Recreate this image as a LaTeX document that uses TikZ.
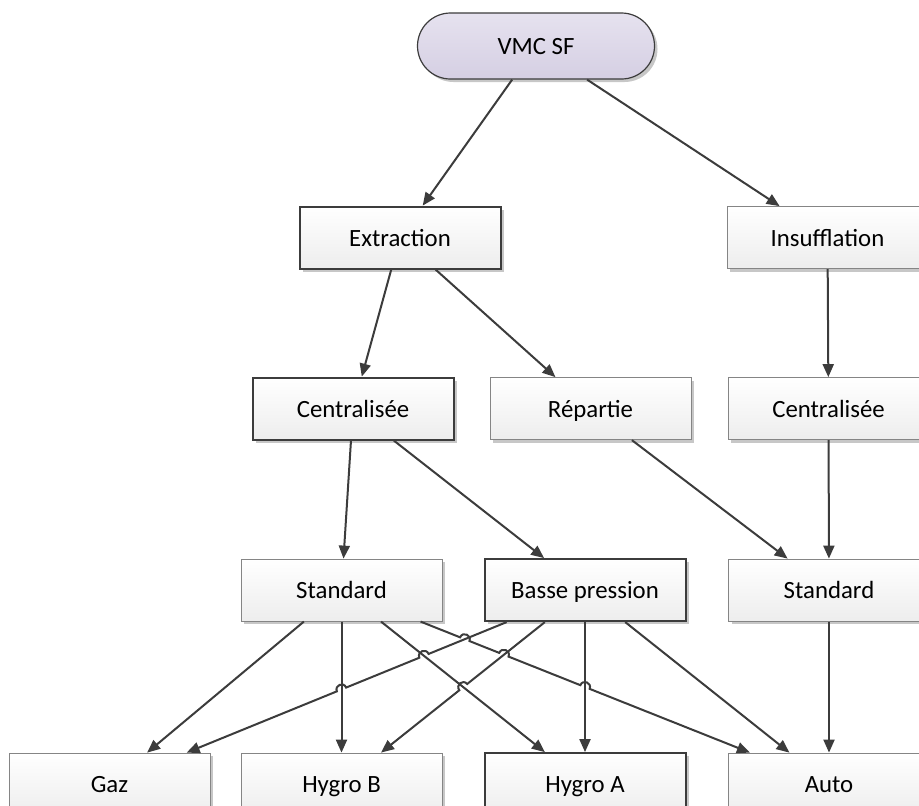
\documentclass[tikz,border=0pt]{standalone}
\usepackage{xcolor}
\usepackage{fontspec}
\setmainfont{Carlito}
\usepackage{tikz}
\usetikzlibrary{positioning,calc,arrows.meta,shadows,intersections}

\definecolor{linegray}{HTML}{3C3C3C}
\definecolor{boxgray}{HTML}{858585}
\definecolor{pilltop}{HTML}{E6E2EF}
\definecolor{pillbottom}{HTML}{D5CFE3}

% half width of a line jump
\newcommand{\jr}{2.5pt}

\begin{document}
\begin{tikzpicture}[
    box/.style={
        rectangle,
        minimum width=100.5pt,
        minimum height=31pt,
        text height=8.6pt,
        text depth=0pt,
        align=center,
        top color=white,
        bottom color=gray!14,
        drop shadow={shadow xshift=1.5pt, shadow yshift=-1.5pt,
                     fill=black!22, opacity=1},
        font=\fontsize{12.4pt}{15pt}\selectfont
    },
    lightbox/.style={box, draw=boxgray, line width=0.5pt},
    darkbox/.style={box, draw=linegray, line width=1pt},
    pill/.style={
        rectangle,
        rounded corners=16.5pt,
        minimum width=118.5pt,
        minimum height=33pt,
        text height=8.6pt,
        text depth=0pt,
        top color=pilltop,
        bottom color=pillbottom,
        draw=linegray,
        line width=0.6pt,
        drop shadow={shadow xshift=1.5pt, shadow yshift=-1.5pt,
                     fill=black!22, opacity=1},
        font=\fontsize{12.4pt}{15pt}\selectfont
    },
    conn/.style={
        draw=linegray,
        line width=1pt,
        -{Triangle[length=6.5pt,width=5.5pt]}
    },
    hopleft/.style={bend left=90, looseness=1.7},
    hopright/.style={bend right=90, looseness=1.7}
]

\useasboundingbox (0,0) rectangle (459.5pt,-402.5pt);

% ------------------------------------------------------------
% Nodes
% ------------------------------------------------------------

\node[pill] (vmc) at (268pt,-23pt) {VMC SF};

\node[darkbox, below=63pt of vmc, xshift=-68pt] (extr) {Extraction};
\node[lightbox, right=112.5pt of extr] (insuf) {Insufflation};

\node[darkbox, below=53.5pt of extr, xshift=-23.5pt] (centL) {Centralisée};
\node[lightbox, right=17.5pt of centL] (rep) {Répartie};
\node[lightbox, right=18pt of rep] (centR) {Centralisée};

\node[lightbox, below=59pt of centL, xshift=-5.75pt] (stdL) {Standard};
\node[darkbox, right=20.5pt of stdL] (basse) {Basse pression};
\node[lightbox, right=20.75pt of basse] (stdR) {Standard};

\node[darkbox, below=65pt of basse] (hygA) {Hygro A};
\node[lightbox, left=20.5pt of hygA] (hygB) {Hygro B};
\node[lightbox, left=15pt of hygB] (gaz) {Gaz};
\node[lightbox, right=20.75pt of hygA] (auto) {Auto};

% ------------------------------------------------------------
% Upper levels
% ------------------------------------------------------------

\draw[conn] (vmc) -- (extr);
\draw[conn] (vmc) -- (insuf);
\draw[conn] (extr) -- (centL);
\draw[conn] (extr) -- (rep);
\draw[conn] (insuf) -- (centR);
\draw[conn] (centL) -- (stdL);
\draw[conn] (centL) -- (basse);
\draw[conn] (rep) -- (stdR);
\draw[conn] (centR) -- (stdR);

% ------------------------------------------------------------
% Lower level, plain lines
% ------------------------------------------------------------

\draw[conn] (stdR) -- (auto);
\draw[conn] (stdL) -- (gaz);
\draw[conn, name path=sHB] (stdL) -- (hygB);
\draw[conn, name path=sHA] (stdL) -- (hygA);
\draw[conn, name path=bHA] (basse) -- (hygA);
\draw[conn] (basse) -- (auto);

% ------------------------------------------------------------
% Lower level, lines with jumps
% ------------------------------------------------------------

\path[name path=sAu] (stdL) -- (auto);
\path[name path=bGz] (basse) -- (gaz);
\path[name path=bHB] (basse) -- (hygB);

\path[name intersections={of=sAu and bGz, by=j1}];
\path[name intersections={of=sAu and bHB, by=j2}];
\path[name intersections={of=sAu and bHA, by=j3}];
\path[name intersections={of=bGz and sHA, by=j4}];
\path[name intersections={of=bGz and sHB, by=j5}];
\path[name intersections={of=bHB and sHA, by=j6}];

\draw[conn]
    (stdL) -- ($(j1)!\jr!(stdL)$) to[hopleft] ($(j1)!\jr!(auto)$)
    -- ($(j2)!\jr!(stdL)$) to[hopleft] ($(j2)!\jr!(auto)$)
    -- ($(j3)!\jr!(stdL)$) to[hopleft] ($(j3)!\jr!(auto)$)
    -- (auto);

\draw[conn]
    (basse) -- ($(j4)!\jr!(basse)$) to[hopright] ($(j4)!\jr!(gaz)$)
    -- ($(j5)!\jr!(basse)$) to[hopright] ($(j5)!\jr!(gaz)$)
    -- (gaz);

\draw[conn]
    (basse) -- ($(j6)!\jr!(basse)$) to[hopright] ($(j6)!\jr!(hygB)$)
    -- (hygB);

\end{tikzpicture}
\end{document}
